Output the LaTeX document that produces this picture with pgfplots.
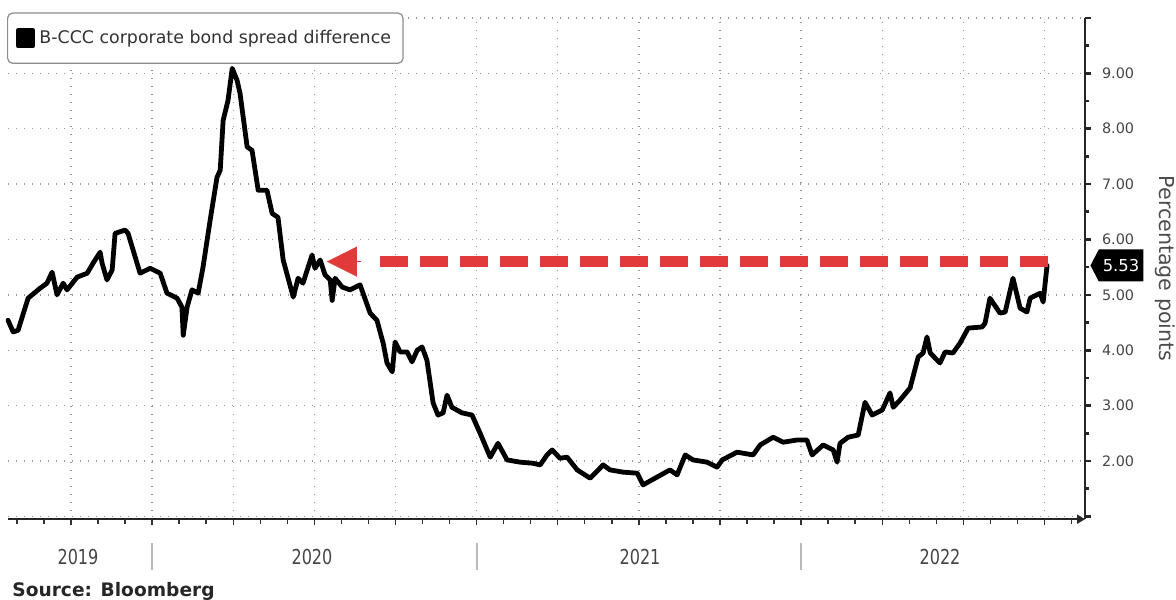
\documentclass[border=0pt]{standalone}
\usepackage{fontspec}
\setmainfont{DejaVu Sans}
\newfontfamily\yearfont[FakeStretch=0.78]{DejaVu Sans}
\usepackage{pgfplots}
\pgfplotsset{compat=1.18}
\usetikzlibrary{arrows.meta,shapes.symbols}
\definecolor{arrowred}{RGB}{226,58,58}
\definecolor{txtgray}{RGB}{70,70,70}
\definecolor{gridgray}{RGB}{150,150,150}

\pgfplotstableread{
x y
2019.556 4.54
2019.572 4.33
2019.587 4.36
2019.618 4.94
2019.655 5.12
2019.676 5.21
2019.692 5.41
2019.707 5.00
2019.726 5.21
2019.738 5.09
2019.769 5.32
2019.800 5.39
2019.818 5.57
2019.840 5.77
2019.846 5.57
2019.861 5.27
2019.877 5.45
2019.886 6.11
2019.917 6.17
2019.926 6.11
2019.963 5.39
2019.994 5.48
2020.025 5.39
2020.046 5.03
2020.077 4.94
2020.092 4.78
2020.096 4.27
2020.108 4.78
2020.123 5.09
2020.142 5.03
2020.157 5.50
2020.179 6.35
2020.200 7.12
2020.210 7.25
2020.219 8.15
2020.234 8.51
2020.247 9.09
2020.262 8.87
2020.271 8.64
2020.293 7.67
2020.308 7.61
2020.327 6.89
2020.354 6.89
2020.370 6.47
2020.388 6.40
2020.404 5.63
2020.435 4.96
2020.450 5.30
2020.465 5.21
2020.493 5.72
2020.502 5.48
2020.518 5.63
2020.533 5.36
2020.549 5.27
2020.555 4.90
2020.564 5.30
2020.586 5.14
2020.610 5.09
2020.641 5.18
2020.672 4.67
2020.693 4.54
2020.712 4.13
2020.724 3.77
2020.740 3.61
2020.749 4.15
2020.764 3.97
2020.786 3.97
2020.801 3.79
2020.817 4.00
2020.832 4.06
2020.847 3.82
2020.866 3.05
2020.881 2.83
2020.897 2.87
2020.909 3.19
2020.924 2.97
2020.955 2.87
2020.986 2.83
2021.011 2.50
2021.042 2.07
2021.066 2.32
2021.094 2.02
2021.134 1.98
2021.174 1.96
2021.196 1.93
2021.217 2.11
2021.233 2.20
2021.257 2.05
2021.279 2.07
2021.310 1.84
2021.350 1.69
2021.390 1.93
2021.411 1.84
2021.451 1.80
2021.495 1.78
2021.513 1.57
2021.556 1.71
2021.596 1.84
2021.618 1.75
2021.643 2.11
2021.667 2.02
2021.710 1.98
2021.741 1.89
2021.757 2.02
2021.803 2.16
2021.852 2.11
2021.874 2.29
2021.914 2.43
2021.945 2.34
2021.988 2.38
2022.018 2.38
2022.034 2.11
2022.068 2.29
2022.099 2.20
2022.111 1.98
2022.120 2.32
2022.145 2.43
2022.176 2.47
2022.197 3.06
2022.219 2.83
2022.250 2.92
2022.274 3.23
2022.284 2.97
2022.305 3.10
2022.336 3.32
2022.361 3.88
2022.376 3.95
2022.388 4.24
2022.398 3.95
2022.428 3.77
2022.444 3.97
2022.468 3.95
2022.490 4.13
2022.515 4.40
2022.558 4.42
2022.567 4.49
2022.582 4.94
2022.613 4.67
2022.629 4.69
2022.653 5.30
2022.675 4.76
2022.696 4.69
2022.706 4.94
2022.737 5.03
2022.746 4.87
2022.758 5.53
}\spread

\begin{document}
\begin{tikzpicture}
\path[use as bounding box] (0,0) rectangle (588pt,299.5pt);
\begin{axis}[
  at={(4pt,39.9pt)}, anchor=south west,
  scale only axis, width=538.5pt, height=250.65pt,
  xmin=2019.556, xmax=2022.875, ymin=0.95, ymax=10,
  clip=false,
  axis x line=bottom, axis y line*=right,
  x axis line style={line width=0.9pt, black!85, -{Triangle[length=4pt,width=4.5pt]}},
  y axis line style={line width=0.9pt, black!85},
  xtick={2019.75,2020,2020.25,2020.5,2020.75,2021,2021.25,2021.5,2021.75,2022,2022.25,2022.5,2022.75},
  minor xtick={2019.5833,2019.6667,2019.75,2019.8333,2019.9167,2020,2020.0833,2020.1667,2020.25,2020.3333,2020.4167,2020.5,2020.5833,2020.6667,2020.75,2020.8333,2020.9167,2021,2021.0833,2021.1667,2021.25,2021.3333,2021.4167,2021.5,2021.5833,2021.6667,2021.75,2021.8333,2021.9167,2022,2022.0833,2022.1667,2022.25,2022.3333,2022.4167,2022.5,2022.5833,2022.6667,2022.75,2022.8333},
  xticklabels={},
  ytick={1,2,3,4,5,6,7,8,9,10},
  minor ytick={1.5,2.5,3.5,4.5,5.5,6.5,7.5,8.5,9.5},
  yticklabels={,2.00,3.00,4.00,5.00,6.00,7.00,8.00,9.00,},
  yticklabel style={font=\fontsize{7.2}{8}\selectfont, text=txtgray, xshift=2pt},
  tick align=outside,
  major tick length=3pt, minor tick length=2.2pt,
  xtick style={line width=0.7pt, black!80},
  ytick style={line width=1.3pt, black!85},
  xmajorgrids, ymajorgrids,
  major grid style={draw=gridgray, line width=0.7pt, dash pattern=on 0.7pt off 3.3pt},
  ylabel={Percentage points},
  ylabel style={at={(axis description cs:1.0743,0.5)}, anchor=center, rotate=180,
    font=\fontsize{10.3}{12}\selectfont, text=black!70},
  legend style={at={(axis description cs:-0.0009,1.0108)}, anchor=north west,
    draw=black!45, line width=0.6pt, fill=white, rounded corners=2.5pt,
    font=\fontsize{8.7}{10}\selectfont, text=black!80,
    inner xsep=4pt, inner ysep=6.5pt},
  legend image code/.code={\fill[black, sharp corners] (0pt,-3.75pt) rectangle (7.5pt,3.75pt);},
]
\addplot[black, line width=2.4pt, line join=round, line cap=round] table[x=x,y=y] {\spread};
\addlegendentry{B-CCC corporate bond spread difference}
\addplot[forget plot, arrowred, line width=5.5pt, dash pattern=on 14pt off 6pt] coordinates {(2022.761,5.6) (2020.693,5.6)};
\addplot[forget plot, arrowred, line width=0.2pt, -{Triangle[length=15pt,width=15pt]}] coordinates {(2020.645,5.6) (2020.539,5.6)};
\node[signal, signal to=west, signal pointer angle=125, fill=black, text=white,
  font=\fontsize{8.2}{9}\selectfont, inner xsep=2pt, inner ysep=0pt,
  minimum height=16pt, anchor=west, xshift=2.5pt] at (axis cs:2022.875,5.53) {5.53};
\end{axis}
\node[font=\yearfont\fontsize{10.3}{12}\selectfont, text=txtgray] at (39pt,21pt) {2019};
\node[font=\yearfont\fontsize{10.3}{12}\selectfont, text=txtgray] at (156pt,21pt) {2020};
\node[font=\yearfont\fontsize{10.3}{12}\selectfont, text=txtgray] at (320pt,21pt) {2021};
\node[font=\yearfont\fontsize{10.3}{12}\selectfont, text=txtgray] at (470pt,21pt) {2022};
\draw[gray!55, line width=0.8pt] (76pt,14.5pt) -- (76pt,28pt);
\draw[gray!55, line width=0.8pt] (238.5pt,14.5pt) -- (238.5pt,28pt);
\draw[gray!55, line width=0.8pt] (400.5pt,14.5pt) -- (400.5pt,28pt);
\node[anchor=base west, font=\bfseries\fontsize{9.3}{11}\selectfont, text=black!85, inner sep=0pt] at (6pt,1.5pt) {Source: Bloomberg};
\end{tikzpicture}
\end{document}
